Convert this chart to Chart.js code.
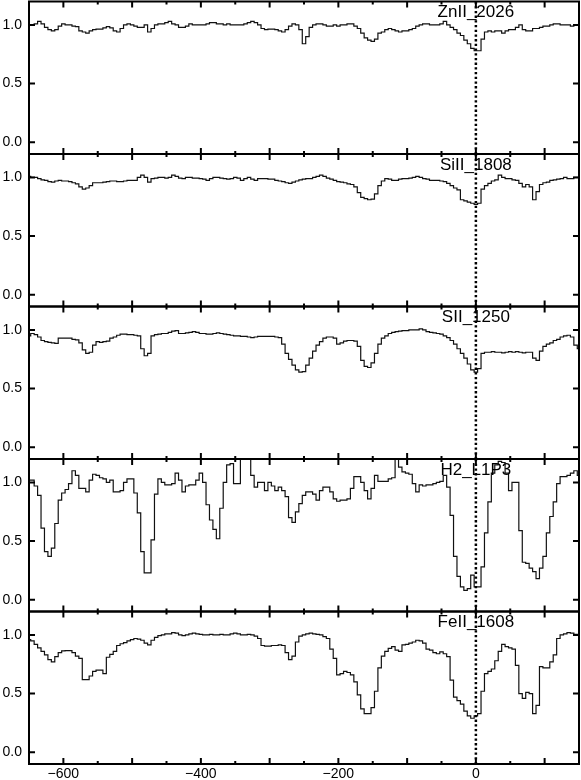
<!DOCTYPE html>
<html>
<head>
<meta charset="utf-8">
<script src="https://cdn.jsdelivr.net/npm/chart.js@4.4.1/dist/chart.umd.min.js"></script>
<style>
  body { margin: 0; background: #fff; }
  #wrap { position: relative; width: 581px; height: 780px; }
  #wrap canvas { position: absolute; left: 0; top: 0; }
</style>
</head>
<body>
<div id="wrap">
  <canvas id="p0" width="581" height="780"></canvas>
  <canvas id="p1" width="581" height="780"></canvas>
  <canvas id="p2" width="581" height="780"></canvas>
  <canvas id="p3" width="581" height="780"></canvas>
  <canvas id="p4" width="581" height="780"></canvas>
</div>
<script>
// velocity bins (km/s)
var velocity = [
  -650,-645,-640,-635,-630,-625,-620,-615,-610,-605,
  -600,-595,-590,-585,-580,-575,-570,-565,-560,-555,
  -550,-545,-540,-535,-530,-525,-520,-515,-510,-505,
  -500,-495,-490,-485,-480,-475,-470,-465,-460,-455,
  -450,-445,-440,-435,-430,-425,-420,-415,-410,-405,
  -400,-395,-390,-385,-380,-375,-370,-365,-360,-355,
  -350,-345,-340,-335,-330,-325,-320,-315,-310,-305,
  -300,-295,-290,-285,-280,-275,-270,-265,-260,-255,
  -250,-245,-240,-235,-230,-225,-220,-215,-210,-205,
  -200,-195,-190,-185,-180,-175,-170,-165,-160,-155,
  -150,-145,-140,-135,-130,-125,-120,-115,-110,-105,
  -100,-95,-90,-85,-80,-75,-70,-65,-60,-55,
  -50,-45,-40,-35,-30,-25,-20,-15,-10,-5,
  0,5,10,15,20,25,30,35,40,45,
  50,55,60,65,70,75,80,85,90,95,
  100,105,110,115,120,125,130,135,140,145,150
]

var znII_2026 = [
  1.00,1.00,1.01,1.03,1.01,0.98,0.96,0.95,0.96,0.99,
  1.01,1.00,1.00,0.99,0.985,0.95,0.94,0.93,0.95,0.96,
  0.965,0.965,0.975,0.985,0.975,0.95,0.94,0.97,1.00,1.01,
  1.00,0.99,0.98,0.98,1.00,0.94,0.97,1.00,1.01,1.01,
  1.02,1.03,1.01,1.00,0.98,0.98,0.99,1.01,1.00,1.00,
  1.00,1.00,1.01,1.02,1.02,1.01,1.01,1.00,1.01,1.00,
  1.00,1.00,1.00,1.01,1.02,1.03,1.02,1.00,0.97,0.96,
  0.965,0.965,0.96,0.95,0.94,0.96,0.99,1.01,1.00,0.96,
  0.84,0.90,0.98,1.00,1.01,1.01,1.00,0.99,0.99,1.00,
  0.99,1.00,1.00,1.01,1.01,0.99,0.97,0.93,0.89,0.87,
  0.86,0.88,0.93,0.94,0.96,0.97,0.96,0.95,0.94,0.95,
  0.95,0.96,0.97,0.99,1.00,1.01,1.01,1.00,1.00,1.00,
  1.01,1.03,1.00,0.98,0.96,0.93,0.91,0.87,0.84,0.80,
  0.78,0.78,0.88,0.94,0.95,0.94,0.95,0.95,0.93,0.95,
  0.96,0.96,0.98,1.00,0.96,0.95,0.95,0.97,0.97,0.98,
  0.99,0.99,1.00,1.01,1.01,1.00,1.00,1.00,0.99,1.00,1.00
]

var siII_1808 = [
  1.01,1.00,1.00,0.99,0.98,0.975,0.965,0.96,0.97,0.975,
  0.97,0.97,0.965,0.955,0.945,0.92,0.90,0.91,0.93,0.955,
  0.955,0.955,0.96,0.965,0.97,0.97,0.965,0.965,0.97,0.975,
  0.975,0.975,1.00,1.02,1.00,0.96,0.99,0.995,1.00,1.00,
  0.995,1.00,1.02,1.01,0.995,0.99,1.00,1.00,0.995,0.995,
  0.99,0.985,0.975,0.99,1.00,1.00,0.995,0.99,0.985,0.99,
  1.00,0.995,0.975,0.99,1.00,0.985,0.975,0.99,0.99,0.99,
  0.985,0.985,0.975,0.97,0.965,0.955,0.95,0.96,0.97,0.98,
  0.985,0.99,0.99,1.00,1.01,1.02,1.01,0.995,0.985,0.975,
  0.965,0.96,0.955,0.945,0.94,0.92,0.87,0.83,0.82,0.81,
  0.815,0.86,0.93,0.97,0.99,0.985,0.975,0.975,0.985,0.99,
  0.99,0.995,1.00,1.01,1.00,0.99,0.985,0.975,0.975,0.975,
  0.97,0.965,0.95,0.93,0.91,0.895,0.81,0.80,0.79,0.78,
  0.77,0.78,0.90,0.93,0.95,0.97,0.98,1.02,1.00,0.99,
  0.99,0.98,0.975,0.95,0.92,0.94,0.92,0.81,0.88,0.94,
  0.955,0.96,0.975,0.98,0.985,0.99,1.00,0.99,0.99,1.00,1.00
]

var sII_1250 = [
  0.95,0.97,0.96,0.94,0.91,0.90,0.895,0.89,0.885,0.93,
  0.93,0.93,0.93,0.92,0.915,0.89,0.83,0.80,0.81,0.87,
  0.90,0.895,0.90,0.905,0.93,0.94,0.955,0.965,0.965,0.96,
  0.96,0.955,0.95,0.84,0.78,0.80,0.95,0.96,0.965,0.97,
  0.97,0.98,0.99,0.995,0.97,0.97,0.975,0.98,0.985,0.98,
  0.97,0.97,0.965,0.965,0.97,0.975,0.97,0.965,0.96,0.955,
  0.95,0.95,0.945,0.945,0.94,0.935,0.94,0.945,0.945,0.945,
  0.945,0.945,0.94,0.935,0.88,0.80,0.75,0.70,0.66,0.64,
  0.645,0.70,0.76,0.82,0.87,0.90,0.93,0.94,0.94,0.93,
  0.88,0.89,0.905,0.91,0.91,0.905,0.86,0.74,0.69,0.68,
  0.72,0.80,0.88,0.93,0.95,0.97,0.98,0.985,0.99,0.995,
  0.995,1.00,1.00,1.00,1.01,1.00,0.985,0.98,0.975,0.97,
  0.965,0.95,0.935,0.91,0.88,0.84,0.80,0.76,0.71,0.66,
  0.64,0.67,0.80,0.81,0.81,0.815,0.81,0.81,0.805,0.81,
  0.815,0.81,0.815,0.81,0.805,0.81,0.81,0.76,0.74,0.82,
  0.86,0.88,0.89,0.91,0.92,0.94,0.95,0.955,0.94,0.87,0.84
]

var h2_L1P3 = [
  1.02,1.02,0.97,0.89,0.61,0.41,0.37,0.44,0.65,0.85,
  0.91,0.94,0.99,1.10,1.06,0.95,0.95,0.92,1.02,1.07,
  1.06,1.04,1.03,1.00,1.02,0.92,0.92,0.93,1.00,1.03,
  1.03,0.91,0.74,0.41,0.23,0.23,0.51,0.90,1.03,1.00,
  0.98,0.98,0.99,1.08,1.02,0.92,0.97,0.98,0.98,1.02,
  1.08,1.00,0.81,0.68,0.60,0.52,0.78,1.00,1.15,1.16,
  0.99,0.99,1.25,1.25,1.25,1.06,0.96,1.00,1.00,0.93,
  1.00,0.97,0.93,0.96,0.93,0.88,0.70,0.66,0.75,0.82,
  0.89,0.92,0.92,0.90,0.85,0.93,0.96,0.96,0.92,0.86,
  0.84,0.85,0.85,0.86,0.95,1.05,1.05,1.00,0.93,0.86,
  0.95,1.06,1.01,1.01,1.01,1.03,1.04,1.22,1.13,1.09,
  1.08,1.07,0.99,0.92,0.98,0.97,0.98,0.98,0.99,1.00,
  1.01,1.06,0.96,0.72,0.37,0.20,0.11,0.08,0.095,0.21,
  0.11,0.11,0.28,0.57,0.835,1.08,1.15,1.18,1.17,1.08,
  0.93,1.00,1.00,0.59,0.32,0.31,0.27,0.24,0.18,0.27,
  0.37,0.57,0.71,0.835,0.99,1.05,1.05,1.06,1.08,1.10,1.06
]

var feII_1608 = [
  0.96,0.95,0.92,0.89,0.86,0.83,0.79,0.77,0.815,0.85,
  0.865,0.866,0.866,0.85,0.82,0.80,0.62,0.62,0.65,0.69,
  0.70,0.70,0.67,0.81,0.835,0.86,0.91,0.925,0.935,0.95,
  0.96,0.97,0.965,0.955,0.93,0.915,0.955,0.98,0.995,1.00,
  1.01,1.01,1.02,1.015,1.00,0.995,1.00,1.01,1.015,1.01,
  1.005,1.00,1.00,1.005,1.00,1.00,1.005,1.00,1.00,1.01,
  1.015,1.01,1.00,1.00,1.005,1.00,0.99,0.97,0.91,0.905,
  0.905,0.91,0.91,0.915,0.91,0.85,0.79,0.82,0.94,0.99,
  1.00,1.01,1.015,1.01,1.005,1.00,0.985,0.97,0.88,0.80,
  0.66,0.67,0.69,0.68,0.66,0.60,0.49,0.37,0.33,0.33,
  0.38,0.52,0.72,0.82,0.86,0.885,0.90,0.87,0.86,0.915,
  0.92,0.93,0.94,0.955,0.95,0.93,0.88,0.87,0.85,0.84,
  0.855,0.84,0.815,0.615,0.47,0.44,0.41,0.35,0.31,0.29,
  0.31,0.33,0.52,0.67,0.69,0.71,0.78,0.86,0.92,0.90,
  0.89,0.88,0.74,0.50,0.46,0.51,0.50,0.33,0.40,0.73,
  0.72,0.72,0.77,0.83,0.97,1.00,1.01,1.02,1.015,1.005,1.00
]

var panelSeries = [znII_2026, siII_1808, sII_1250, h2_L1P3, feII_1608]
var panelLabels = ["ZnII_2026", "SiII_1808", "SII_1250", "H2_L1P3", "FeII_1608"]

var yTicks = [0, 0.5, 1.0]
var xLabelTicks = [-600, -400, -200, 0]
var xMajorTicks = [-600, -500, -400, -300, -200, -100, 0, 100]
var xMinorTicks = [-550, -450, -350, -250, -150, -50, 50]

var PANEL_TOP = 1.5
var PANEL_H = 152.5
var LEFT_W = 29
var RIGHT_PAD = 2
var XLAB_H = 16
var FONT = "'Liberation Sans', Arial, Helvetica, sans-serif"

Chart.defaults.font.family = FONT
Chart.defaults.color = '#000'

// frame, inward ticks, zero line and label for each panel
var framePlugin = {
  id: 'frame',
  afterDatasetsDraw: function(chart, args, opts) {
    var ctx = chart.ctx
    var a = chart.chartArea
    var xs = chart.scales.x
    var ys = chart.scales.y
    ctx.save()
    ctx.strokeStyle = '#000'

    // dotted line at v = 0
    var x0 = xs.getPixelForValue(0)
    ctx.lineWidth = 2.5
    ctx.setLineDash([2.3, 2.4])
    ctx.beginPath()
    ctx.moveTo(x0, a.top)
    ctx.lineTo(x0, a.bottom)
    ctx.stroke()
    ctx.setLineDash([])

    // ticks
    ctx.lineWidth = 2
    ctx.beginPath()
    yTicks.forEach(function(v) {
      var y = ys.getPixelForValue(v)
      ctx.moveTo(a.left, y); ctx.lineTo(a.left + 6, y)
      ctx.moveTo(a.right, y); ctx.lineTo(a.right - 6, y)
    })
    xMajorTicks.forEach(function(v) {
      var x = xs.getPixelForValue(v)
      ctx.moveTo(x, a.top); ctx.lineTo(x, a.top + 6)
      ctx.moveTo(x, a.bottom); ctx.lineTo(x, a.bottom - 6)
    })
    ctx.stroke()
    ctx.beginPath()
    xMinorTicks.forEach(function(v) {
      var x = xs.getPixelForValue(v)
      ctx.moveTo(x, a.top); ctx.lineTo(x, a.top + 3)
      ctx.moveTo(x, a.bottom); ctx.lineTo(x, a.bottom - 3)
    })
    ctx.stroke()

    // box
    ctx.lineWidth = 2
    ctx.strokeRect(a.left, a.top, a.right - a.left, a.bottom - a.top)

    // transition label
    ctx.fillStyle = '#000'
    ctx.font = '17px ' + FONT
    ctx.textAlign = 'center'
    ctx.textBaseline = 'middle'
    ctx.fillText(opts.label, x0, a.top + 11)
    ctx.restore()
  }
}

function minusLabel(v) {
  return v < 0 ? '\u2212' + Math.abs(v) : String(v)
}

function makePanel(i) {
  var top = PANEL_TOP + i * PANEL_H
  var bottom = top + PANEL_H
  var last = i === panelSeries.length - 1
  var points = velocity.map(function(v, k) { return { x: v, y: panelSeries[i][k] } })

  new Chart(document.getElementById('p' + i), {
    type: 'line',
    data: {
      datasets: [{
        data: points,
        stepped: 'middle',
        borderColor: '#111',
        borderWidth: 1.2,
        pointRadius: 0,
        fill: false
      }]
    },
    options: {
      responsive: false,
      animation: false,
      devicePixelRatio: 1,
      layout: {
        padding: { top: top, bottom: last ? 780 - bottom - XLAB_H : 780 - bottom, left: 0, right: RIGHT_PAD }
      },
      plugins: {
        legend: { display: false },
        tooltip: { enabled: false },
        frame: { label: panelLabels[i] }
      },
      scales: {
        x: {
          type: 'linear',
          min: -650,
          max: 150,
          display: last,
          grid: { display: false, drawTicks: false, tickLength: 0 },
          border: { display: false },
          afterBuildTicks: function(s) { s.ticks = xLabelTicks.map(function(v) { return { value: v } }) },
          afterFit: function(s) {
            s.height = last ? XLAB_H : 0
            s.paddingLeft = 0
            s.paddingRight = 0
          },
          ticks: { callback: minusLabel, font: { size: 14 }, color: '#000', padding: 2, maxRotation: 0, autoSkip: false }
        },
        y: {
          min: -0.1,
          max: 1.2,
          grid: { display: false, drawTicks: false, tickLength: 0 },
          border: { display: false },
          afterBuildTicks: function(s) { s.ticks = yTicks.map(function(v) { return { value: v } }) },
          afterFit: function(s) {
            s.width = LEFT_W
            s.paddingTop = 0
            s.paddingBottom = 0
          },
          ticks: { callback: function(v) { return v.toFixed(1) }, font: { size: 14 }, color: '#000', padding: 7 }
        }
      }
    },
    plugins: [framePlugin]
  })
}

for (var i = 0; i < panelSeries.length; i++) makePanel(i)
</script>
</body>
</html>
